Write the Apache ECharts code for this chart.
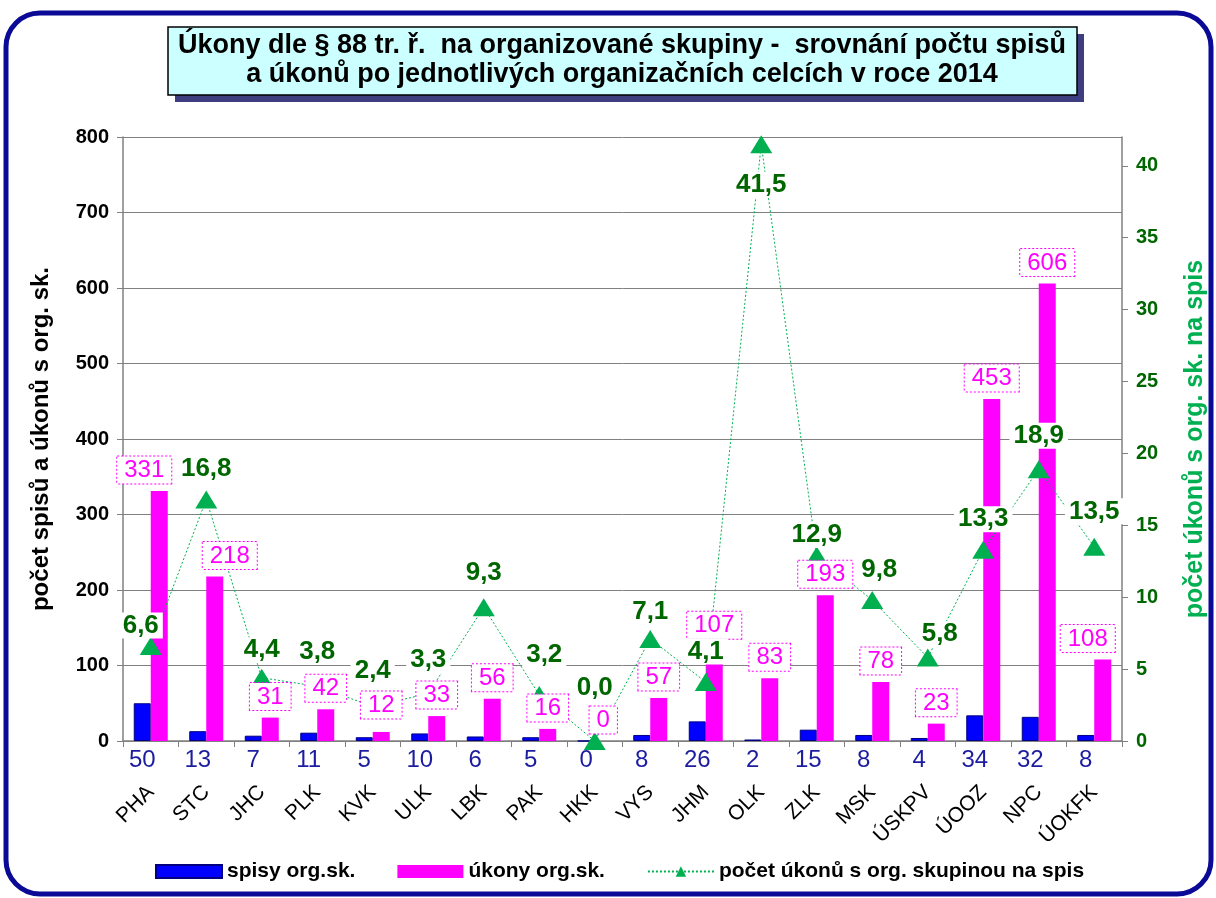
<!DOCTYPE html>
<html>
<head>
<meta charset="utf-8">
<script src="https://cdn.jsdelivr.net/npm/echarts/dist/echarts.min.js"></script>
<style>
html, body { margin: 0; padding: 0; background: #fff; }
#chart-container { width: 1216px; height: 898px; }
</style>
</head>
<body>
<div id="chart-container"></div>
<script>
var categories = ['PHA', 'STC', 'JHC', 'PLK', 'KVK', 'ULK', 'LBK', 'PAK', 'HKK', 'VYS',
  'JHM', 'OLK', 'ZLK', 'MSK', 'ÚSKPV', 'ÚOOZ', 'NPC', 'ÚOKFK'];
var spisy = [50, 13, 7, 11, 5, 10, 6, 5, 0, 8, 26, 2, 15, 8, 4, 34, 32, 8];
var ukony = [331, 218, 31, 42, 12, 33, 56, 16, 0, 57, 107, 83, 193, 78, 23, 453, 606, 108];
var naSpis = [6.6, 16.8, 4.4, 3.8, 2.4, 3.3, 9.3, 3.2, 0.0, 7.1, 4.1, 41.5, 12.9, 9.8, 5.8, 13.3, 18.9, 13.5];

var FONT = 'Arial, "Liberation Sans", sans-serif';

// label nudges, by category index
var ukonyShift = { 0: [-15, 0], 1: [15, 0], 4: [0, -6], 10: [0, -14], 17: [-15, 0] };
var naSpisShift = { 0: [-10, 10], 2: [0, 3], 3: [0, -4], 4: [0, -5], 5: [0, -3], 6: [0, -4],
  7: [5, -10], 8: [0, -23], 9: [0, 3], 12: [0, 10], 13: [7, 0], 14: [12, 7], 16: [0, -3], 17: [0, -5] };

var dom = document.getElementById('chart-container');
var myChart = echarts.init(dom, null, { renderer: 'canvas' });

var option = {
  animation: false,
  textStyle: { fontFamily: FONT },
  graphic: [
    {
      type: 'rect',
      shape: { x: 6, y: 13, width: 1205, height: 881, r: 34 },
      style: { fill: 'none', stroke: '#0a0a96', lineWidth: 5 },
      z: 0
    },
    {
      type: 'rect',
      shape: { x: 175, y: 34, width: 909, height: 68 },
      style: { fill: '#3d3d80' },
      z: 10
    },
    {
      type: 'rect',
      shape: { x: 168, y: 27, width: 909, height: 68 },
      style: { fill: '#ccffff', stroke: '#000', lineWidth: 1.5 },
      z: 11
    },
    {
      type: 'text',
      x: 622,
      y: 60,
      z: 12,
      style: {
        text: 'Úkony dle § 88 tr. ř.  na organizované skupiny -  srovnání počtu spisů\na úkonů po jednotlivých organizačních celcích v roce 2014',
        font: 'bold 27px ' + FONT,
        fill: '#000',
        textAlign: 'center',
        textVerticalAlign: 'middle',
        lineHeight: 29
      }
    }
  ],
  legend: {
    bottom: 11,
    left: 150,
    itemWidth: 66,
    itemHeight: 13,
    itemGap: 42,
    textStyle: { fontSize: 21, fontWeight: 'bold', color: '#000', fontFamily: FONT },
    data: [
      { name: 'spisy org.sk.', icon: 'rect' },
      { name: 'úkony org.sk.', icon: 'rect' },
      { name: 'počet úkonů s org. skupinou na spis' }
    ]
  },
  grid: { left: 123, right: 92, top: 137, bottom: 157 },
  xAxis: {
    type: 'category',
    data: categories,
    axisLine: { lineStyle: { color: '#808080', width: 1.5 } },
    axisTick: { show: true, length: 6, lineStyle: { color: '#808080' } },
    axisLabel: {
      rotate: 45,
      margin: 48,
      fontSize: 21,
      color: '#000',
      fontFamily: FONT
    }
  },
  yAxis: [
    {
      type: 'value',
      min: 0,
      max: 800,
      interval: 100,
      name: 'počet spisů a úkonů s org. sk.',
      nameLocation: 'middle',
      nameRotate: 90,
      nameGap: 70,
      nameTextStyle: { fontSize: 24, fontWeight: 'bold', color: '#000', fontFamily: FONT },
      axisLine: { show: true, lineStyle: { color: '#808080', width: 1.5 } },
      axisTick: { show: true, length: 6, lineStyle: { color: '#808080' } },
      axisLabel: { fontSize: 20, fontWeight: 'bold', color: '#000', margin: 14, fontFamily: FONT },
      splitLine: { lineStyle: { color: '#808080', width: 1 } }
    },
    {
      type: 'value',
      min: 0,
      max: 42,
      interval: 5,
      name: 'počet úkonů s org. sk. na spis',
      nameLocation: 'middle',
      nameRotate: 90,
      nameGap: 61,
      nameTextStyle: { fontSize: 25, fontWeight: 'bold', color: '#00b050', fontFamily: FONT },
      axisLine: { show: true, lineStyle: { color: '#808080', width: 1.5 } },
      axisTick: { show: true, length: 6, lineStyle: { color: '#808080' } },
      axisLabel: {
        fontSize: 20, fontWeight: 'bold', color: '#006600', margin: 14, fontFamily: FONT,
        showMaxLabel: false,
        formatter: function (v) { return v % 5 === 0 ? String(v) : ''; }
      },
      splitLine: { show: false }
    }
  ],
  series: [
    {
      name: 'spisy org.sk.',
      type: 'bar',
      barWidth: 17,
      barGap: '0%',
      z: 2,
      itemStyle: { color: '#0000ff', borderColor: '#000080', borderWidth: 1 },
      label: {
        show: true,
        position: 'bottom',
        distance: 7,
        fontSize: 24,
        color: '#1c1ca0',
        fontFamily: FONT
      },
      data: spisy
    },
    {
      name: 'úkony org.sk.',
      type: 'bar',
      barWidth: 17,
      z: 2,
      itemStyle: { color: '#ff00ff' },
      data: ukony
    },
    {
      name: 'počet úkonů s org. skupinou na spis',
      type: 'line',
      yAxisIndex: 1,
      z: 3,
      symbol: 'triangle',
      symbolSize: [22, 18],
      itemStyle: { color: '#00b050' },
      lineStyle: { color: '#00b050', width: 1, type: [2, 2] },
      data: naSpis
    },
    // value boxes above the magenta bars
    {
      type: 'scatter',
      z: 4,
      symbolSize: 1,
      itemStyle: { color: 'rgba(0,0,0,0)', opacity: 1 },
      silent: true,
      label: {
        show: true,
        position: 'top',
        distance: 7,
        fontSize: 24,
        color: '#ff00ff',
        backgroundColor: '#fff',
        borderColor: '#ff00ff',
        borderWidth: 1,
        borderType: [2, 2],
        padding: [2, 7, 1, 7],
        fontFamily: FONT,
        formatter: function (p) { return String(p.value[1]); }
      },
      data: ukony.map(function (v, i) {
        var s = ukonyShift[i] || [0, 0];
        return { value: [i, v], label: { offset: [8.5 + s[0], s[1]] } };
      })
    },
    // ratio labels with white background, above everything
    {
      type: 'scatter',
      yAxisIndex: 1,
      z: 5,
      symbolSize: 1,
      itemStyle: { color: 'rgba(0,0,0,0)', opacity: 1 },
      silent: true,
      label: {
        show: true,
        position: 'top',
        distance: 17,
        fontSize: 26,
        fontWeight: 'bold',
        color: '#006600',
        backgroundColor: '#fff',
        padding: [0, 4],
        fontFamily: FONT,
        formatter: function (p) { return p.value[1].toFixed(1).replace('.', ','); }
      },
      data: naSpis.map(function (v, i) {
        var d = { value: [i, v] };
        if (i === 11) d.label = { position: 'bottom', distance: 27 };
        else if (naSpisShift[i]) d.label = { offset: naSpisShift[i] };
        return d;
      })
    }
  ]
};

myChart.setOption(option);
window.addEventListener('resize', myChart.resize);
</script>
</body>
</html>
